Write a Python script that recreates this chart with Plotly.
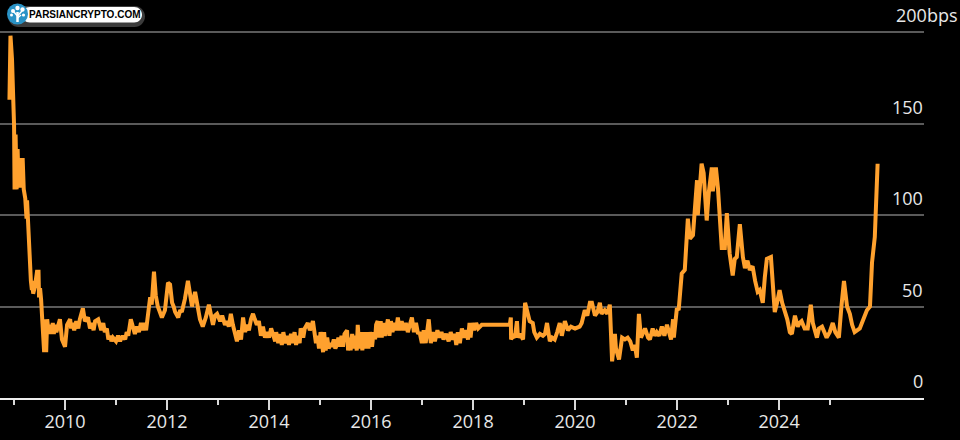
import pandas as pd
import plotly.graph_objects as go

# Spread in basis points, read as (decimal year, bps) pairs, one list per stretch.
crisis_2008_2009 = [
    (2008.91,163),(2008.93,198),(2008.96,185),(2008.98,171),(2008.99,163),(2009.00,149),(2009.01,114),
    (2009.03,144),(2009.05,114),(2009.07,136),(2009.09,115),(2009.11,127),(2009.13,115),(2009.15,130),
    (2009.17,130),(2009.19,114),(2009.22,109),(2009.235,105),(2009.245,98),(2009.255,108),(2009.27,98),
    (2009.29,86),(2009.31,73),(2009.33,64),(2009.35,59),(2009.36,64),(2009.375,57),(2009.41,61),
    (2009.45,69),(2009.48,69),(2009.49,55),(2009.51,60),(2009.53,54),(2009.55,44),(2009.59,25),
    (2009.61,43),(2009.63,25),(2009.65,43),(2009.68,35),(2009.705,40),(2009.73,35),(2009.76,41),(2009.78,35),
    (2009.80,40),(2009.83,36),(2009.86,39),(2009.90,43),(2009.94,32),(2010.00,28),
]
recovery_2010_2012 = [
    (2010.04,40),(2010.10,43),(2010.12,38),(2010.14,41),(2010.18,37),(2010.22,42),(2010.26,38),
    (2010.29,43),(2010.35,49),(2010.39,42),(2010.45,44),(2010.49,38),(2010.53,41),(2010.56,37),
    (2010.59,42),(2010.65,43),(2010.71,37),(2010.75,41),(2010.78,36),(2010.82,38),(2010.85,32),
    (2010.88,34),(2010.91,31),(2010.94,33),(2011.00,31),(2011.04,34),(2011.08,31),(2011.13,34),
    (2011.18,32),(2011.21,36),(2011.24,34),(2011.29,43),(2011.32,40),(2011.37,35),(2011.41,39),
    (2011.45,36),(2011.49,41),(2011.53,37),(2011.56,41),(2011.59,37),(2011.67,55),(2011.70,51),
    (2011.745,69),(2011.76,64),(2011.78,56),(2011.82,50),(2011.86,47),(2011.90,44),(2011.96,48),
    (2012.02,63),(2012.06,62),(2012.10,52),(2012.13,50),(2012.16,47),(2012.22,44),(2012.26,48),
    (2012.29,47),(2012.35,54),(2012.41,64),(2012.45,58),(2012.49,50),(2012.55,58),(2012.61,48),
    (2012.645,43),(2012.70,39),(2012.76,44),(2012.82,51),(2012.86,44),(2012.90,40),(2012.94,45),
]
plateau_2013_2015 = [
    (2012.98,46),(2013.04,42),(2013.08,45),(2013.135,40),(2013.17,42),(2013.21,39),(2013.25,46),
    (2013.29,40),(2013.33,34),(2013.37,31),(2013.41,37),(2013.45,32),(2013.49,44),(2013.53,36),
    (2013.565,40),(2013.605,37),(2013.645,43),(2013.685,46),(2013.72,43),(2013.76,40),(2013.80,42),
    (2013.84,34),(2013.88,39),(2013.92,33),(2013.96,36),(2014.00,33),(2014.04,38),(2014.08,34),
    (2014.12,31),(2014.14,36),(2014.18,30),(2014.22,35),(2014.25,29),(2014.28,36),(2014.32,30),
    (2014.36,34),(2014.39,29),(2014.43,35),(2014.46,30),(2014.50,36),(2014.53,29),(2014.56,34),
    (2014.60,30),(2014.62,38),(2014.65,36),(2014.67,33),(2014.70,38),(2014.76,41),(2014.80,37),
    (2014.86,42),(2014.89,34),(2014.92,30),(2014.95,34),(2014.98,27),(2015.01,36),(2015.03,29),
    (2015.06,25),(2015.08,36),(2015.11,26),(2015.14,33),(2015.17,27),(2015.20,30),(2015.23,28),
    (2015.27,32),(2015.30,27),(2015.33,29),(2015.36,33),(2015.39,28),(2015.42,34),(2015.45,28),
    (2015.48,35),(2015.53,37),(2015.55,26),(2015.58,33),(2015.60,26),(2015.63,35),(2015.66,27),
    (2015.69,34),(2015.72,26),(2015.74,40),(2015.77,27),(2015.80,36),(2015.83,26),(2015.86,36),
    (2015.89,27),(2015.92,36),(2015.95,27),(2015.98,36),(2016.02,28),(2016.05,36),
]
plateau_2016_2018 = [
    (2016.08,32),(2016.10,40),(2016.13,42),(2016.16,33),(2016.19,42),(2016.21,33),(2016.24,41),
    (2016.27,34),(2016.30,40),(2016.33,43),(2016.36,34),(2016.39,42),(2016.42,36),(2016.46,41),
    (2016.49,37),(2016.525,44),(2016.56,37),(2016.60,42),(2016.64,37),(2016.68,41),(2016.72,36),
    (2016.76,40),(2016.80,44),(2016.84,36),(2016.88,41),(2016.92,35),(2016.95,36),(2016.995,30),
    (2017.03,37),(2017.07,30),(2017.10,36),(2017.13,43),(2017.17,30),(2017.21,36),(2017.25,31),
    (2017.30,37),(2017.34,33),(2017.38,36),(2017.42,32),(2017.47,35),(2017.52,31),(2017.56,36),
    (2017.60,32),(2017.64,35),(2017.67,29),(2017.70,36),(2017.74,30),(2017.78,38),(2017.82,33),
    (2017.86,37),(2017.90,32),(2017.93,41),(2017.95,33),(2017.98,41),(2018.02,37),(2018.06,41),
    (2018.10,38),(2018.17,40),(2018.30,40),(2018.45,40),(2018.60,40),(2018.72,40),
]
rates_2018_2021 = [
    (2018.74,44),(2018.745,32),(2018.78,34),(2018.82,33),(2018.86,42),(2018.88,33),(2018.92,35),
    (2018.96,33),(2018.98,32),(2019.02,52),(2019.06,47),(2019.11,42),(2019.17,41),(2019.20,36),
    (2019.25,33),(2019.31,35),(2019.37,34),(2019.41,35),(2019.45,41),(2019.505,31),(2019.55,33),
    (2019.60,32),(2019.65,36),(2019.70,41),(2019.74,34),(2019.80,42),(2019.86,37),(2019.92,39),
    (2020.00,38),(2020.09,39),(2020.13,41),(2020.19,48),(2020.24,45),(2020.29,52),(2020.33,52),
    (2020.39,45),(2020.44,47),(2020.485,52),(2020.52,46),(2020.58,48),(2020.63,46),(2020.68,51),
    (2020.725,20),(2020.78,35),(2020.80,27),(2020.86,21),(2020.92,33),(2020.975,32),(2021.03,33),
    (2021.08,31),(2021.13,26),(2021.17,29),(2021.21,22),(2021.25,46),(2021.29,33),(2021.37,38),
    (2021.43,33),(2021.465,32),(2021.52,38),(2021.56,34),(2021.60,36),(2021.65,34),(2021.70,39),
    (2021.75,34),(2021.80,40),(2021.88,32),(2021.92,43),(2021.935,33),
]
tightening_2022_2023 = [
    (2021.995,49),(2022.03,48),(2022.09,68),(2022.15,70),(2022.21,98),(2022.25,87),(2022.31,89),
    (2022.35,104),(2022.39,119),(2022.405,100),(2022.44,116),(2022.48,128),(2022.52,123),(2022.55,110),
    (2022.58,97),(2022.62,112),(2022.68,126),(2022.70,113),(2022.76,126),(2022.80,115),(2022.84,100),
    (2022.875,82),(2022.935,82),(2022.975,101),(2023.03,79),(2023.09,67),(2023.13,76),(2023.17,77),
    (2023.23,95),(2023.26,82),(2023.29,77),(2023.33,71),(2023.38,75),(2023.425,70),(2023.48,72),
    (2023.53,64),(2023.58,58),(2023.62,59),(2023.68,52),(2023.72,66),(2023.76,76),(2023.84,77),
    (2023.88,60),(2023.915,47),(2023.96,52),(2024.01,59),
]
widening_2024_2025 = [
    (2024.06,52),(2024.11,48),(2024.16,43),(2024.21,36),(2024.25,35),(2024.31,45),(2024.365,39),
    (2024.40,41),(2024.44,42),(2024.50,38),(2024.56,38),(2024.62,51),(2024.66,41),(2024.74,33),
    (2024.78,38),(2024.84,39),(2024.93,33),(2024.99,36),(2025.05,41),(2025.10,36),(2025.17,33),
    (2025.22,50),(2025.27,64),(2025.33,50),(2025.385,46),(2025.43,40),(2025.48,36),(2025.58,38),
    (2025.65,43),(2025.72,48),(2025.78,50),(2025.82,74),(2025.875,88),(2025.89,100),(2025.91,115),
    (2025.93,128),
]

y_ticks = [0, 50, 100, 150, 200]
y_tick_labels = ["0", "50", "100", "150", "200bps"]
x_label_years = [2010, 2012, 2014, 2016, 2018, 2020, 2022, 2024]
x_minor_years = [2009, 2011, 2013, 2015, 2017, 2019, 2021, 2023, 2025]


def to_date(year):
    whole = int(year)
    start = pd.Timestamp(year=whole, month=1, day=1)
    span = pd.Timestamp(year=whole + 1, month=1, day=1) - start
    return start + (year - whole) * span


readings = (crisis_2008_2009 + recovery_2010_2012 + plateau_2013_2015 + plateau_2016_2018
            + rates_2018_2021 + tightening_2022_2023 + widening_2024_2025)
dates = [to_date(y) for y, _ in readings]
spreads = [v for _, v in readings]

PLOT_W, PLOT_TOP, PLOT_BOTTOM = 924, 28, 398
Y_MAX = 202.186   # headroom so the 200 gridline is drawn inside the plot
TEXT = "#e8e8e8"
FONT = "Open Sans"


def px(x):
    return x / PLOT_W


def py(y):
    return (PLOT_BOTTOM - y) / (PLOT_BOTTOM - PLOT_TOP)


def pill(x0, y0, x1, y1, fill):
    r = (y1 - y0) / 2
    k = 0.55 * r
    return dict(
        type="path", xref="paper", yref="paper", line_width=0, fillcolor=fill, layer="below",
        path=(f"M{px(x0 + r)},{py(y0)} L{px(x1 - r)},{py(y0)} "
              f"C{px(x1 - r + k)},{py(y0)} {px(x1)},{py(y0 + r - k)} {px(x1)},{py(y0 + r)} "
              f"C{px(x1)},{py(y0 + r + k)} {px(x1 - r + k)},{py(y1)} {px(x1 - r)},{py(y1)} "
              f"L{px(x0 + r)},{py(y1)} "
              f"C{px(x0 + r - k)},{py(y1)} {px(x0)},{py(y0 + r + k)} {px(x0)},{py(y0 + r)} "
              f"C{px(x0)},{py(y0 + r - k)} {px(x0 + r - k)},{py(y0)} {px(x0 + r)},{py(y0)} Z"),
    )


def disc(cx, cy, r, fill):
    return dict(type="circle", xref="paper", yref="paper", line_width=0, fillcolor=fill, layer="below",
                x0=px(cx - r), x1=px(cx + r), y0=py(cy + r), y1=py(cy - r))


def stroke(x0, y0, x1, y1, width=1.5):
    return dict(type="line", xref="paper", yref="paper", layer="below",
                line=dict(color="white", width=width),
                x0=px(x0), y0=py(y0), x1=px(x1), y1=py(y1))


# Site badge: shadowed pill, blue disc and a small white tree
badge = [
    pill(8, 6, 145, 27, "#3c3c3c"),
    pill(22, 7, 142, 22.5, "white"),
    disc(17.5, 14, 10.5, "#2a93c6"),
    stroke(17.5, 22, 17.5, 12, 2.5), stroke(17.5, 16, 13, 11), stroke(17.5, 16, 22, 11),
    stroke(17.5, 18, 21, 15),
    disc(17.5, 8, 2.2, "white"), disc(13, 11, 2, "white"), disc(22.5, 9.5, 2.2, "white"),
    disc(11.5, 15, 1.5, "white"), disc(23.5, 15, 1.6, "white"),
]

annotations = [
    dict(text=label, xref="paper", x=1 if label != "200bps" else 895 / PLOT_W,
         xanchor="right" if label != "200bps" else "left", yref="y", y=value, yanchor="bottom",
         yshift=4, showarrow=False, font=dict(family=FONT, size=18, color=TEXT), borderpad=0)
    for value, label in zip(y_ticks, y_tick_labels)
]
annotations.append(dict(text="<b>PARSIANCRYPTO.COM</b>", xref="paper", yref="paper",
                        x=px(84.5), y=py(15), xanchor="center", yanchor="middle", showarrow=False,
                        font=dict(family="Liberation Sans", size=10, color="black")))

fig = go.Figure(go.Scatter(
    x=dates, y=spreads, mode="lines", hoverinfo="skip",
    line=dict(color="#ffa12e", width=4, shape="linear"),
))

fig.update_layout(
    width=960, height=440, autosize=False,
    margin=dict(l=0, r=960 - PLOT_W, t=PLOT_TOP, b=440 - PLOT_BOTTOM, pad=0),
    paper_bgcolor="black", plot_bgcolor="black", showlegend=False,
    shapes=badge, annotations=annotations,
    xaxis=dict(
        type="date", range=[to_date(2008.725), to_date(2026.84)],
        tickmode="array", tickvals=[f"{y}-01-01" for y in x_label_years],
        ticktext=[str(y) for y in x_label_years], ticks="outside", ticklen=10,
        tickwidth=2, tickcolor="#d8d8d8", showgrid=False, zeroline=False,
        showline=True, linecolor="#eeeeee", linewidth=2,
        tickfont=dict(family=FONT, size=18, color=TEXT), ticklabelstandoff=-4,
        minor=dict(tickmode="array", tickvals=[f"{y}-01-01" for y in x_minor_years],
                   ticks="outside", ticklen=5, tickwidth=2, tickcolor="#d8d8d8", showgrid=False),
    ),
    yaxis=dict(
        range=[0, Y_MAX], tickmode="array", tickvals=y_ticks, showticklabels=False,
        ticks="", showgrid=True, gridcolor="#5a5a5a", gridwidth=2, zeroline=False,
    ),
)

fig.write_html("out.html")
